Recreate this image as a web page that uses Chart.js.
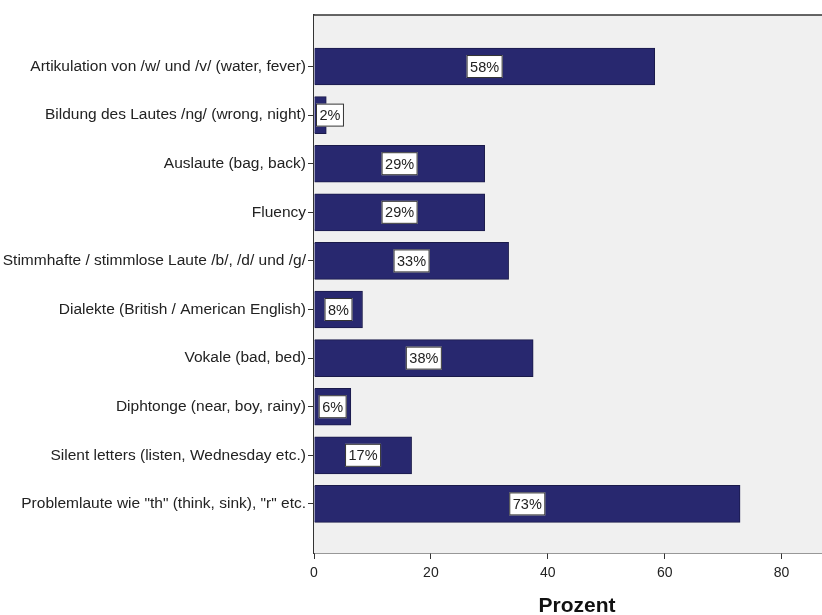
<!DOCTYPE html>
<html>
<head>
<meta charset="utf-8">
<script src="https://cdn.jsdelivr.net/npm/chart.js@4.4.0/dist/chart.umd.min.js"></script>
<style>
html, body { margin: 0; padding: 0; overflow: hidden; background: #fff; }
#wrap { width: 822px; height: 615px; overflow: hidden; }
</style>
</head>
<body>
<div id="wrap"><canvas id="myChart" style="width:842px;height:615px"></canvas></div>
<script>
var categories = [
    'Artikulation von /w/ und /v/ (water, fever)',
    'Bildung des Lautes /ng/ (wrong, night)',
    'Auslaute (bag, back)',
    'Fluency',
    'Stimmhafte / stimmlose Laute /b/, /d/ und /g/',
    'Dialekte (British / American English)',
    'Vokale (bad, bed)',
    'Diphtonge (near, boy, rainy)',
    'Silent letters (listen, Wednesday etc.)',
    'Problemlaute wie "th" (think, sink), "r" etc.'
];
var percentValues = [58.3, 2.1, 29.2, 29.2, 33.3, 8.3, 37.5, 6.3, 16.7, 72.9];
var xTicks = [0, 20, 40, 60, 80];

var fontFam = '"Liberation Sans", Arial, sans-serif';

// grey plot background + top frame line
var plotFrame = {
    id: 'plotFrame',
    beforeDatasetsDraw: function(chart) {
        var a = chart.chartArea, c = chart.ctx;
        c.save();
        c.fillStyle = '#f0f0f0';
        c.fillRect(a.left, a.top, a.right - a.left, a.bottom - a.top);
        c.restore();
    },
    afterDraw: function(chart) {
        var a = chart.chartArea, c = chart.ctx;
        c.save();
        c.strokeStyle = '#333';
        c.lineWidth = 1.5;
        c.beginPath();
        c.moveTo(a.left, a.top);
        c.lineTo(a.right, a.top);
        c.stroke();
        c.restore();
    }
};

// white boxes with the percentage
var valueBoxes = {
    id: 'valueBoxes',
    afterDatasetsDraw: function(chart) {
        var c = chart.ctx, a = chart.chartArea;
        var meta = chart.getDatasetMeta(0);
        c.save();
        c.font = '14.5px ' + fontFam;
        c.textAlign = 'center';
        c.textBaseline = 'middle';
        meta.data.forEach(function(bar, i) {
            var txt = Math.round(percentValues[i]) + '%';
            var w = c.measureText(txt).width + 7;
            var h = 23;
            var cx = (bar.x + bar.base) / 2;
            cx = Math.max(cx, a.left + w / 2 + 2);
            c.fillStyle = '#fff';
            c.fillRect(cx - w / 2, bar.y - h / 2, w, h);
            c.strokeStyle = '#333';
            c.lineWidth = 1;
            c.strokeRect(cx - w / 2 + 0.5, bar.y - h / 2 + 0.5, w - 1, h - 1);
            c.fillStyle = '#222';
            c.fillText(txt, cx, bar.y + 1);
        });
        c.restore();
    }
};

var ctx = document.getElementById('myChart');
var chart = new Chart(ctx, {
    type: 'bar',
    data: {
        datasets: [{
            data: percentValues.map(function(v, i) { return { x: v, y: i }; }),
            backgroundColor: '#28286f',
            borderColor: '#1a1a4a',
            borderWidth: 1,
            barThickness: 37
        }]
    },
    plugins: [plotFrame, valueBoxes],
    options: {
        indexAxis: 'y',
        responsive: false,
        animation: false,
        layout: { padding: { top: 15, right: 2, left: 0, bottom: 0 } },
        plugins: {
            legend: { display: false },
            tooltip: { enabled: false }
        },
        scales: {
            y: {
                type: 'linear',
                reverse: true,
                offset: false,
                min: -1.06,
                max: 10.01,
                afterBuildTicks: function(scale) {
                    scale.ticks = categories.map(function(c, i) { return { value: i }; });
                },
                afterFit: function(scale) { scale.width = 314; },
                border: { display: true, color: '#333', width: 1.5 },
                grid: { offset: false, drawOnChartArea: false, drawTicks: true, tickLength: 6, color: '#333' },
                ticks: {
                    padding: 2,
                    color: '#222',
                    font: { family: fontFam, size: 15.5 },
                    callback: function(v) { return categories[v]; }
                }
            },
            x: {
                type: 'linear',
                min: 0,
                max: 90,
                afterBuildTicks: function(scale) {
                    scale.ticks = xTicks.map(function(v) { return { value: v }; });
                },
                afterFit: function(scale) { scale.height = 62; },
                border: { display: true, color: '#333', width: 1.5 },
                grid: { drawOnChartArea: false, drawTicks: true, tickLength: 6, color: '#333' },
                ticks: {
                    padding: 6,
                    color: '#222',
                    font: { family: fontFam, size: 14 }
                },
                title: {
                    display: true,
                    text: 'Prozent',
                    color: '#111',
                    padding: { top: 0, bottom: -4 },
                    font: { family: fontFam, size: 21, weight: 'bold' }
                }
            }
        }
    }
});
</script>
</body>
</html>
